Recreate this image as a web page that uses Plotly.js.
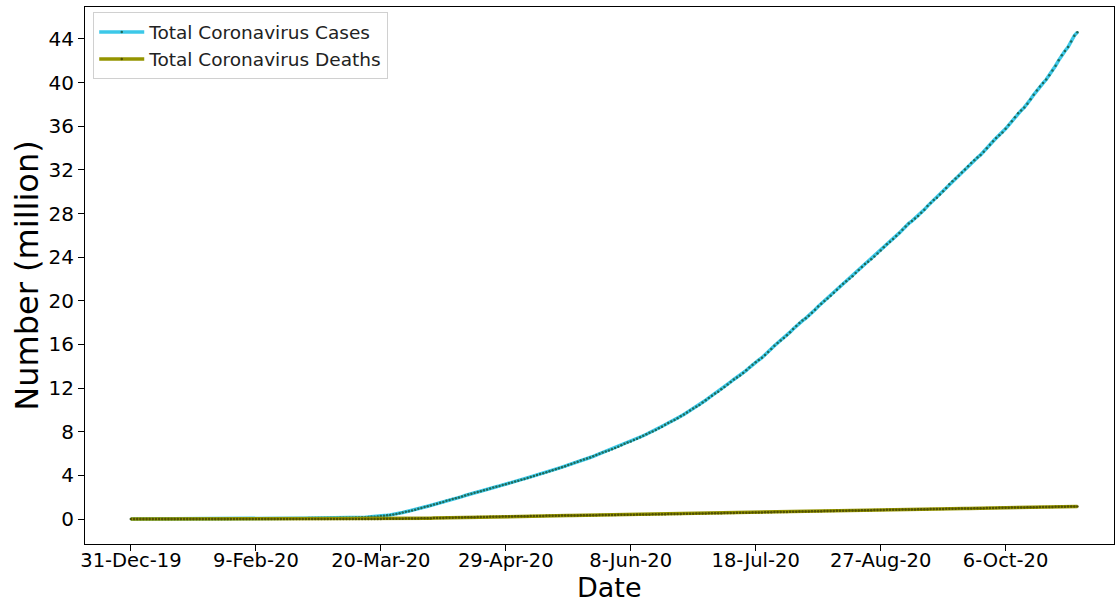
<!DOCTYPE html>
<html>
<head>
<meta charset="utf-8">
<script src="https://cdn.plot.ly/plotly-3.0.1.min.js"></script>
<style>html,body{margin:0;padding:0;background:#fff;}#chart{width:1115px;height:605px;}</style>
</head>
<body>
<div id="chart"></div>
<script>
// First date of the daily series; one value per day through 29-Oct-20
const startDate = '2019-12-31';

// Total cases (million), daily
const casesMillion = [
0.000,
0.000,0.000,0.000,0.000,0.000,0.000,0.000,0.000,0.000,0.000,0.000,0.000,0.000,0.000,0.000,0.000,0.000,0.000,0.000,0.000,0.000,
0.001,0.001,0.001,0.001,0.002,0.003,0.004,0.006,0.008,0.010,
0.012,0.017,0.020,0.024,0.028,0.031,0.034,0.037,0.040,0.043,0.045,0.045,0.060,0.067,0.069,0.071,0.073,0.075,0.075,0.076,0.077,0.078,0.079,0.080,0.081,0.082,0.083,0.085,0.087,
0.089,0.091,0.093,0.096,0.098,0.102,0.106,0.110,0.114,0.119,0.126,0.133,0.145,0.157,0.169,0.182,0.198,0.218,0.242,0.272,0.305,0.337,0.379,0.418,0.467,0.529,0.593,0.661,0.721,0.783,0.858,
0.933,1.014,1.096,1.175,1.249,1.322,1.397,1.483,1.569,1.664,1.745,1.827,1.900,1.975,2.056,2.153,2.241,2.320,2.404,2.476,2.555,2.631,2.712,2.800,2.885,2.960,3.034,3.110,3.186,3.272,
3.354,3.439,3.515,3.594,3.674,3.766,3.855,3.949,4.039,4.118,4.197,4.281,4.374,4.470,4.565,4.662,4.754,4.844,4.942,5.041,5.147,5.255,5.356,5.454,5.545,5.638,5.742,5.858,5.977,6.086,6.184,
6.280,6.387,6.503,6.632,6.760,6.893,7.004,7.114,7.234,7.361,7.499,7.632,7.766,7.899,8.028,8.170,8.317,8.460,8.641,8.801,8.934,9.076,9.236,9.410,9.588,9.766,9.953,10.135,10.296,10.461,
10.676,10.891,11.100,11.303,11.510,11.676,11.889,12.100,12.330,12.563,12.790,12.978,13.163,13.393,13.631,13.883,14.136,14.374,14.575,14.781,15.030,15.310,15.592,15.874,16.139,16.364,16.585,16.843,17.128,17.411,17.698,
17.960,18.188,18.398,18.633,18.910,19.186,19.479,19.737,19.983,20.213,20.456,20.737,21.022,21.319,21.575,21.800,22.012,22.261,22.542,22.821,23.102,23.367,23.588,23.809,24.061,24.342,24.622,24.911,25.173,25.408,25.672,
25.945,26.226,26.512,26.822,27.094,27.305,27.549,27.784,28.067,28.357,28.680,28.965,29.232,29.455,29.742,30.039,30.349,30.674,30.950,31.200,31.470,31.753,32.044,32.341,32.627,32.883,33.141,33.376,33.661,33.978,
34.298,34.620,34.917,35.167,35.428,35.769,36.109,36.467,36.828,37.184,37.453,37.725,38.063,38.466,38.881,39.279,39.650,39.956,40.282,40.678,41.108,41.548,42.040,42.504,42.894,43.264,43.777,44.300,44.620
];

// Total deaths (million), daily
const deathsMillion = [
0.000,
0.000,0.000,0.000,0.000,0.000,0.000,0.000,0.000,0.000,0.000,0.000,0.000,0.000,0.000,0.000,0.000,0.000,0.000,0.000,0.000,0.000,
0.000,0.000,0.000,0.000,0.000,0.000,0.000,0.000,0.000,0.000,
0.000,0.000,0.000,0.000,0.001,0.001,0.001,0.001,0.001,0.001,0.001,0.001,0.001,0.001,0.002,0.002,0.002,0.002,0.002,0.002,0.002,0.002,0.002,0.003,0.003,0.003,0.003,0.003,0.003,
0.003,0.003,0.003,0.003,0.003,0.004,0.004,0.004,0.004,0.004,0.005,0.005,0.005,0.006,0.007,0.007,0.008,0.009,0.010,0.012,0.014,0.015,0.017,0.020,0.023,0.027,0.032,0.036,0.040,0.044,0.048,
0.054,0.060,0.066,0.072,0.078,0.083,0.090,0.097,0.104,0.111,0.118,0.124,0.130,0.136,0.143,0.151,0.160,0.167,0.172,0.177,0.183,0.190,0.196,0.203,0.208,0.212,0.216,0.222,0.229,0.234,
0.239,0.244,0.248,0.252,0.256,0.262,0.267,0.272,0.277,0.281,0.284,0.288,0.293,0.298,0.303,0.308,0.311,0.314,0.318,0.323,0.328,0.332,0.337,0.341,0.345,0.347,0.350,0.354,0.359,0.363,0.366,
0.369,0.372,0.377,0.382,0.387,0.392,0.395,0.398,0.401,0.406,0.410,0.414,0.419,0.423,0.426,0.430,0.435,0.440,0.447,0.452,0.456,0.459,0.463,0.469,0.475,0.481,0.486,0.494,0.498,0.502,
0.508,0.514,0.519,0.524,0.530,0.533,0.537,0.543,0.548,0.554,0.559,0.563,0.567,0.572,0.578,0.583,0.589,0.596,0.601,0.605,0.612,0.619,0.626,0.633,0.639,0.643,0.648,0.654,0.661,0.668,0.674,
0.680,0.684,0.688,0.694,0.701,0.708,0.714,0.720,0.726,0.731,0.736,0.742,0.748,0.755,0.761,0.766,0.770,0.776,0.783,0.790,0.796,0.802,0.807,0.810,0.815,0.821,0.827,0.832,0.838,0.843,0.847,
0.851,0.857,0.863,0.869,0.875,0.879,0.883,0.887,0.893,0.898,0.904,0.910,0.915,0.919,0.923,0.928,0.934,0.939,0.944,0.948,0.953,0.958,0.964,0.970,0.975,0.980,0.983,0.987,0.993,0.999,
1.010,1.015,1.020,1.025,1.028,1.033,1.039,1.045,1.051,1.056,1.060,1.064,1.068,1.074,1.080,1.085,1.091,1.095,1.098,1.104,1.110,1.117,1.122,1.128,1.132,1.136,1.141,1.147,1.153
];

// X tick positions and labels
const xTickDates = ['2019-12-31','2020-02-09','2020-03-20','2020-04-29','2020-06-08','2020-07-18','2020-08-27','2020-10-06'];
const xTickLabels = ['31-Dec-19','9-Feb-20','20-Mar-20','29-Apr-20','8-Jun-20','18-Jul-20','27-Aug-20','6-Oct-20'];
const yTickVals = [0,4,8,12,16,20,24,28,32,36,40,44];
const xTitle = 'Date';
const yTitle = 'Number (million)';

// build the daily date axis for the series
const dates = [];
{
  const d0 = new Date(startDate + 'T00:00:00Z');
  for (let i = 0; i < casesMillion.length; i++) {
    const d = new Date(d0.getTime() + i * 86400000);
    dates.push(d.toISOString().slice(0, 10));
  }
}

const font = 'DejaVu Sans, Verdana, sans-serif';

const traces = [
  {
    x: dates, y: casesMillion, type: 'scatter', mode: 'lines+markers',
    name: 'Total Coronavirus Cases',
    line: {color: '#3cc8e8', width: 3.5},
    marker: {color: '#1d6a5a', size: 2.5, symbol: 'circle'}
  },
  {
    x: dates, y: deathsMillion, type: 'scatter', mode: 'lines+markers',
    name: 'Total Coronavirus Deaths',
    line: {color: '#949400', width: 3.5},
    marker: {color: '#505000', size: 2.5, symbol: 'circle'}
  }
];

const layout = {
  width: 1115, height: 605,
  margin: {l: 85, r: 1, t: 7, b: 61},
  paper_bgcolor: '#ffffff', plot_bgcolor: '#ffffff',
  font: {family: font, color: '#000', size: 20},
  showlegend: true,
  legend: {
    x: 0.008, y: 0.99, xanchor: 'left', yanchor: 'top',
    bgcolor: 'rgba(255,255,255,0.9)', bordercolor: '#d0d0d0', borderwidth: 1,
    font: {family: font, size: 18.5, color: '#222'},
    itemwidth: 45,
    tracegroupgap: 0
  },
  xaxis: {
    type: 'date',
    range: ['2019-12-16 07:00', '2020-11-09 17:00'],
    tickmode: 'array', tickvals: xTickDates, ticktext: xTickLabels,
    ticks: 'outside', ticklen: 6, tickwidth: 1, tickcolor: '#000',
    ticklabelstandoff: -7,
    showgrid: false, zeroline: false,
    showline: true, linecolor: '#000', linewidth: 1, mirror: true,
    tickfont: {family: font, size: 19.5, color: '#000'}
  },
  yaxis: {
    range: [-2.29, 46.93],
    tickmode: 'array', tickvals: yTickVals,
    ticks: 'outside', ticklen: 6, tickwidth: 1, tickcolor: '#000',
    showgrid: false, zeroline: false,
    showline: true, linecolor: '#000', linewidth: 1, mirror: true,
    tickfont: {family: font, size: 20, color: '#000'},
    title: {text: yTitle, font: {family: font, size: 32, color: '#000'}, standoff: 0}
  },
  annotations: [{
    text: xTitle, xref: 'paper', yref: 'paper', x: 0.51, y: -0.0819,
    xanchor: 'center', yanchor: 'middle', showarrow: false, borderpad: 0,
    font: {family: font, size: 27, color: '#000'}
  }]
};

Plotly.newPlot('chart', traces, layout, {displayModeBar: false, staticPlot: true});
</script>
</body>
</html>
